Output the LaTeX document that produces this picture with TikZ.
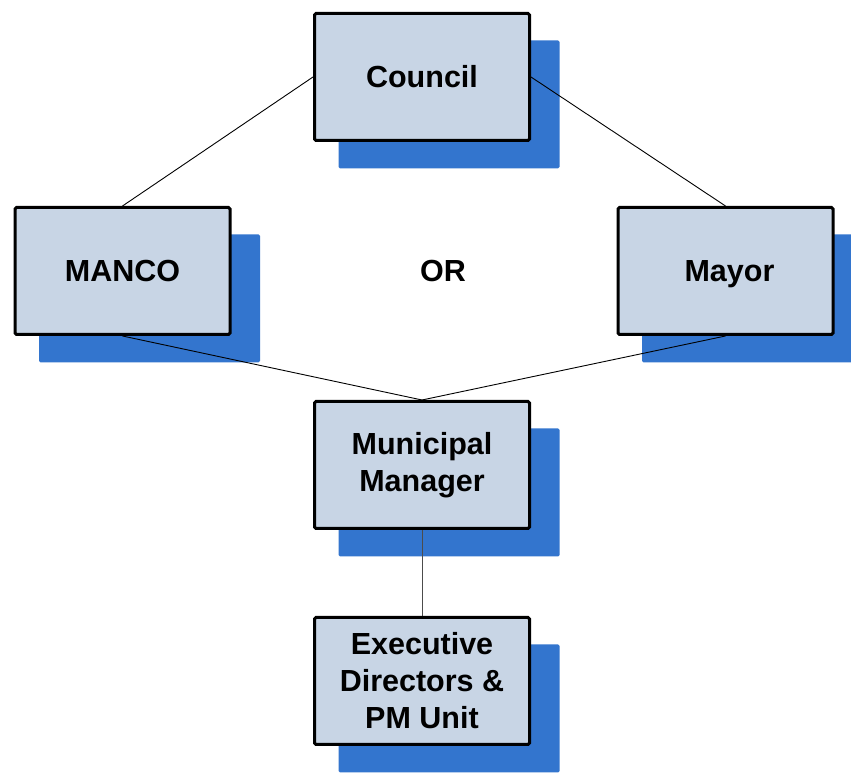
\documentclass[tikz,border=0pt]{standalone}
\usepackage{fontspec}
\setmainfont{Liberation Sans}
\usetikzlibrary{calc}
\definecolor{boxfill}{RGB}{200,213,229}
\definecolor{shadowblue}{RGB}{51,117,206}
\tikzset{
  labelfont/.style={font=\bfseries\fontsize{30.5}{37}\selectfont},
  orgbox/.style={draw=black, line width=3pt, fill=boxfill, rounded corners=1.5pt,
    minimum width=215pt, minimum height=127pt, align=center, labelfont},
  oneline/.style={text height=22pt, text depth=0pt},
  link/.style={draw=black, line width=0.9pt},
}
\newcommand{\boxshadow}[1]{%
  \fill[shadowblue, rounded corners=1.5pt]
    ($(#1.south west)+(25.5,-26.5)$) rectangle ($(#1.north east)+(28.5,-28.5)$);}
\begin{document}
\begin{tikzpicture}[x=1pt,y=1pt]
  \useasboundingbox (0,0) rectangle (851,773);
  \fill[white] (0,0) rectangle (851,773);
  % box centres
  \path
    (422,696)   coordinate (pc)
    (122.5,502) coordinate (pa)
    (725.5,502) coordinate (pm)
    (422,308)   coordinate (pmm)
    (422,92)    coordinate (pe);
  % empty frames giving the geometry for shadows and connectors
  \node[orgbox, draw=none, fill=none] (c0) at (pc) {};
  \node[orgbox, draw=none, fill=none] (a0) at (pa) {};
  \node[orgbox, draw=none, fill=none] (m0) at (pm) {};
  \node[orgbox, draw=none, fill=none] (mm0) at (pmm) {};
  \node[orgbox, draw=none, fill=none] (e0) at (pe) {};
  \boxshadow{c0}
  \boxshadow{a0}
  \boxshadow{m0}
  \boxshadow{mm0}
  \boxshadow{e0}
  % connectors
  \draw[link] (c0.west) -- (a0.north);
  \draw[link] (c0.east) -- (m0.north);
  \draw[link] (a0.south) -- (mm0.north);
  \draw[link] (m0.south) -- (mm0.north);
  \draw[link, draw=black!70] (mm0.south) -- (e0.north);
  % boxes
  \node[orgbox, oneline] (council) at (pc) {Council};
  \node[orgbox, oneline] (manco) at (pa) {MANCO};
  \node[orgbox, oneline] (mayor) at (pm) {\hspace*{8pt}Mayor};
  \node[orgbox] (mm) at (pmm) {Municipal\\Manager};
  \node[orgbox] (exec) at (pe) {Executive\\Directors \&\\PM Unit};
  \node[labelfont, oneline] (or) at (443,502) {OR};
\end{tikzpicture}
\end{document}
